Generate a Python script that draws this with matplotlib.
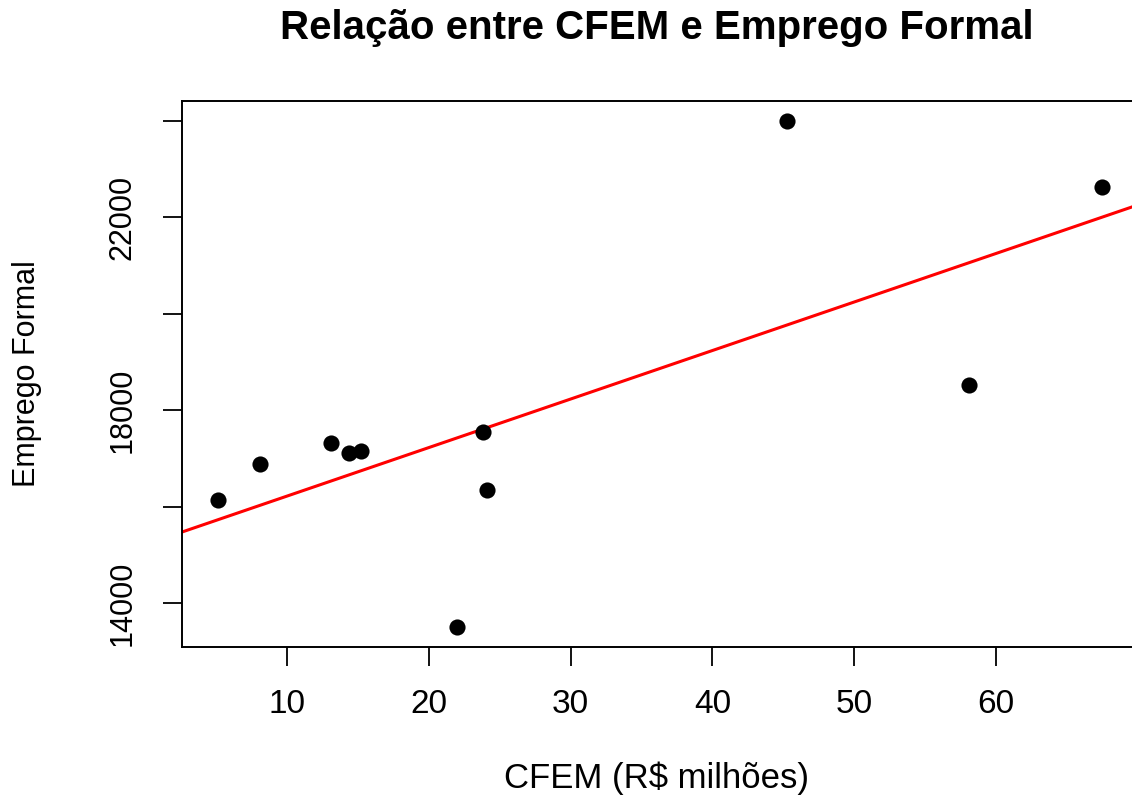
import numpy as np
import matplotlib
matplotlib.use("Agg")
import matplotlib.pyplot as plt

plt.rcParams['font.family'] = ['Liberation Sans', 'DejaVu Sans']

# Dados
cfem = [5.1, 8.1, 13.1, 14.4, 15.2, 22.0, 23.8, 24.1, 45.3, 58.1, 67.5]
emprego = [16140, 16890, 17325, 17120, 17160, 13500, 17555, 16350, 23995, 18530, 22625]
yticks = [14000, 16000, 18000, 20000, 22000, 24000]
ytick_labels = ["14000", "", "18000", "", "22000", ""]
xticks = [10, 20, 30, 40, 50, 60]

fig = plt.figure(figsize=(11.32, 7.98), dpi=100)
ax = fig.add_axes([182 / 1132, 1 - 647 / 798, 1 - 182 / 1132, (647 - 101) / 798])

ax.scatter(cfem, emprego, s=135, color='black', zorder=3, linewidths=0)

# reta de regressão (abline)
b, a = np.polyfit(cfem, emprego, 1)
xl = np.array([2.59, 69.6])
ax.plot(xl, a + b * xl, color='red', lw=2.2, zorder=2)

ax.set_xlim(2.59, 69.6)
ax.set_ylim(13086, 24416)
ax.set_xticks(xticks)
ax.set_yticks(yticks)
ax.set_yticklabels(ytick_labels, rotation=90, va='center', fontsize=22)
ax.tick_params(axis='x', labelsize=24, pad=16)
ax.tick_params(axis='y', pad=18)
ax.tick_params(length=14, width=1.3)
ax.spines['right'].set_visible(False)
for s in ['left', 'top', 'bottom']:
    ax.spines[s].set_linewidth(1.4)

fig.text(657 / 1132, 1 - 28 / 798, "Relação entre CFEM e Emprego Formal",
         ha='center', va='center', fontsize=29, fontweight='bold')
fig.text(657 / 1132, 1 - 778 / 798, "CFEM (R$ milhões)", ha='center', va='center', fontsize=25)
fig.text(27 / 1132, 1 - 374 / 798, "Emprego Formal", ha='center', va='center',
         fontsize=22, rotation=90)

plt.savefig("out.png", dpi=100)
